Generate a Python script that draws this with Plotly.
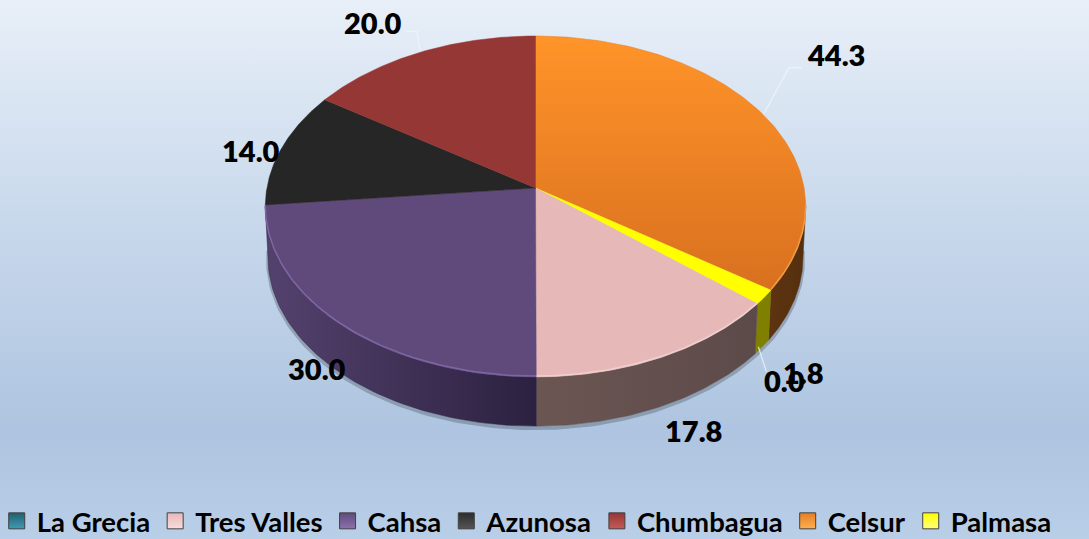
import numpy as np
import plotly.graph_objects as go

categories = ["Celsur", "Palmasa", "La Grecia", "Tres Valles", "Cahsa", "Azunosa", "Chumbagua"]
values = [44.3, 1.8, 0.0, 17.8, 30.0, 14.0, 20.0]
legend_order = ["La Grecia", "Tres Valles", "Cahsa", "Azunosa", "Chumbagua", "Celsur", "Palmasa"]

top_colors = {"Celsur": "#e57e26", "Palmasa": "#ffff00", "La Grecia": "#31859c", "Tres Valles": "#e6b9b8",
              "Cahsa": "#604a7b", "Azunosa": "#262626", "Chumbagua": "#953735"}
top_grad = {"Celsur": ("#ff9429", "#d9701f")}
wall_grad = {"Celsur": ("#5e3310", "#54300e"), "Palmasa": ("#7f7f00", "#7f7f00"), "La Grecia": ("#18424e", "#18424e"),
             "Tres Valles": ("#6b5652", "#5c4a4a"), "Cahsa": ("#54426e", "#2c2140"), "Azunosa": ("#131313", "#131313"),
             "Chumbagua": ("#4a1b1a", "#4a1b1a")}
legend_colors = {"La Grecia": "#215f6e", "Tres Valles": "#e6b9b8", "Cahsa": "#604a7b", "Azunosa": "#2c2c2c",
                 "Chumbagua": "#953735", "Celsur": "#e57e26", "Palmasa": "#ffff00"}
legend_light = {"La Grecia": "#3f9cb5", "Tres Valles": "#f7dcdb", "Cahsa": "#8c72ad", "Azunosa": "#555555",
                "Chumbagua": "#c65a58", "Celsur": "#ffb050", "Palmasa": "#ffff80"}

# projection of the tilted disc into the pixel-sized axes
CX, CY, A, B, K = 535.5, 188, 268.6, 168.5, 0.1085
DEPTH, SHRINK = 51, 0.99

def proj(theta, lower=False):
    u, v = np.sin(theta), np.cos(theta)
    d = 1 + K * v
    s = SHRINK if lower else 1.0
    return CX + s * A * u / d, CY + (DEPTH if lower else 0) - s * B * v / d

total = sum(values)
edges = np.concatenate([[0], np.cumsum(values)]) / total * 2 * np.pi
VIS_L, VIS_R = np.arccos(-K), 2 * np.pi - np.arccos(-K)
mid = (edges[:-1] + edges[1:]) / 2

fig = go.Figure()

# background
fig.add_trace(go.Scatter(x=[0, 1089, 1089, 0, 0], y=[0, 0, 539, 539, 0], mode="none", fill="toself",
                         fillgradient=dict(type="vertical", start=0, stop=539,
                                           colorscale=[[0, "#e8eff8"], [0.4, "#c9d9ec"], [0.8, "#aec4e0"], [1, "#b9cee7"]]),
                         showlegend=False, hoverinfo="skip"))

# soft shadow below the wall
t = np.linspace(VIS_L - 0.05, VIS_R + 0.05, 160)
sx, sy = proj(t, True)
fig.add_trace(go.Scatter(x=sx, y=sy + 2, mode="lines", line=dict(color="rgba(70,80,90,0.35)", width=4),
                         showlegend=False, hoverinfo="skip"))

# side walls
for name, a, b in zip(categories, edges[:-1], edges[1:]):
    lo, hi = max(a, VIS_L), min(b, VIS_R)
    if hi <= lo:
        continue
    t = np.linspace(lo, hi, 60)
    x1, y1 = proj(t)
    x2, y2 = proj(t[::-1], True)
    x = np.r_[x1, x2, x1[0]]
    y = np.r_[y1, y2, y1[0]]
    c0, c1 = wall_grad[name]
    fig.add_trace(go.Scatter(x=x, y=y, mode="lines", line=dict(color=c1, width=0.5), fill="toself",
                             fillgradient=dict(type="horizontal", start=float(x.min()), stop=float(x.max()),
                                               colorscale=[[0, c0], [1, c1]]),
                             showlegend=False, hoverinfo="skip"))

# top faces
for name, a, b in zip(categories, edges[:-1], edges[1:]):
    if b <= a:
        continue
    t = np.linspace(a, b, 120)
    xr, yr = proj(t)
    x = np.r_[CX, xr, CX]
    y = np.r_[CY, yr, CY]
    kw = dict(fillcolor=top_colors[name])
    if name in top_grad:
        c0, c1 = top_grad[name]
        kw = dict(fillgradient=dict(type="vertical", start=36, stop=290, colorscale=[[0, c0], [1, c1]]))
    fig.add_trace(go.Scatter(x=x, y=y, mode="lines", line=dict(color=top_colors[name], width=0.5), fill="toself",
                             showlegend=False, hoverinfo="skip", **kw))

# bevel highlight along the front rim
bevel = {"Cahsa": "#7d66a3", "Tres Valles": "#f0cfce", "Celsur": "#f09a45"}
for name, a, b in zip(categories, edges[:-1], edges[1:]):
    if name in bevel:
        t = np.linspace(max(a, VIS_L), min(b, VIS_R), 80)
        x, y = proj(t)
        fig.add_trace(go.Scatter(x=x, y=y - 1, mode="lines", line=dict(color=bevel[name], width=1.5),
                                 showlegend=False, hoverinfo="skip"))

# leader lines, offset in pixels from each slice's rim anchor
leader_offsets = {"Celsur": [(2, 0), (27, -46), (40, -46)],
                  "Chumbagua": [(0, -2), (-3, -21), (-14, -21)],
                  "La Grecia": [(1, 43), (9, 68)]}
for name, m in zip(categories, mid):
    if name in leader_offsets:
        ax, ay = proj(m)
        off = leader_offsets[name]
        fig.add_trace(go.Scatter(x=[ax + o[0] for o in off], y=[ay + o[1] for o in off], mode="lines",
                                 line=dict(color="rgba(240,245,250,0.75)", width=1.3),
                                 showlegend=False, hoverinfo="skip"))

# legend entries
for name in legend_order:
    fig.add_trace(go.Scatter(x=[None], y=[None], mode="markers", name=name,
                             marker=dict(symbol="square", size=16, color=legend_colors[name],
                                         gradient=dict(type="vertical", color=legend_light[name]),
                                         line=dict(color="#404040", width=1))))

# data labels: placed relative to the slice's mid-angle rim point
label_shift = {"Celsur": (74, -59), "Palmasa": (39, 75), "La Grecia": (27, 77), "Tres Valles": (31, 73),
               "Cahsa": (-23, 44), "Azunosa": (-31, 2), "Chumbagua": (-47, -30)}
annotations = []
for name, value, m in zip(categories, values, mid):
    x0, y0 = proj(m)
    annotations.append(dict(x=float(x0), y=float(y0), xref="x", yref="y", text=f"{value:.1f}", showarrow=False,
                            font=dict(family="Lato", size=29, color="black", weight=800),
                            xshift=label_shift[name][0], yshift=-label_shift[name][1]))

fig.update_layout(
    width=1089, height=539, margin=dict(l=0, r=0, t=0, b=0, autoexpand=False), showlegend=True,
    paper_bgcolor="#c9d9ec", plot_bgcolor="rgba(0,0,0,0)",
    xaxis=dict(range=[0, 1089], visible=False, fixedrange=True),
    yaxis=dict(range=[539, 0], visible=False, fixedrange=True),
    legend=dict(orientation="h", x=-0.003, xanchor="left", y=-0.012, yanchor="bottom", bgcolor="rgba(0,0,0,0)",
                font=dict(family="Lato", size=27.5, color="black", weight=700), itemsizing="trace",
                traceorder="normal", tracegroupgap=0),
    annotations=annotations,
)
fig.write_html("out.html", config={"displayModeBar": False},
               post_script="document.body.style.margin='0';document.body.style.overflow='hidden';")
